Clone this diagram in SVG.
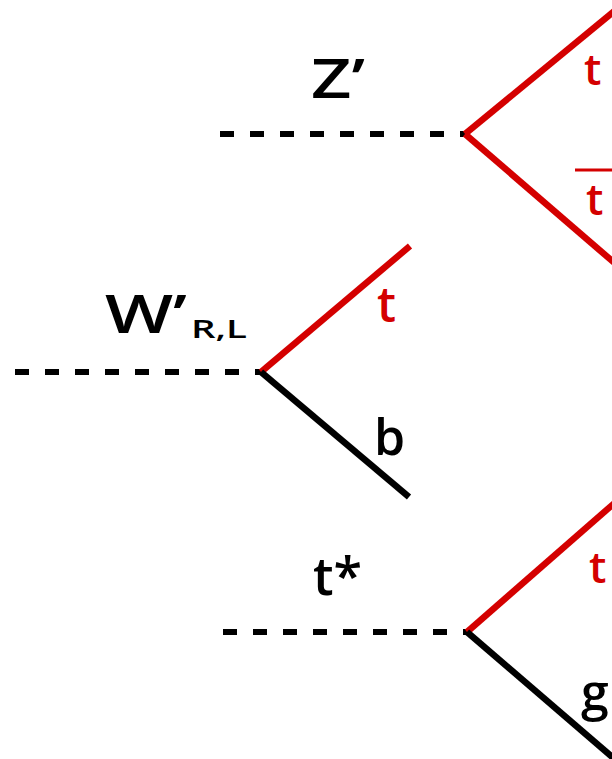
<svg xmlns="http://www.w3.org/2000/svg" width="612" height="759" viewBox="0 0 612 759">
<style>
.dash{stroke:#000;stroke-width:6;stroke-dasharray:14 16;fill:none}
.red{stroke:#d40000;stroke-width:6.5;fill:none}
.blk{stroke:#000;stroke-width:6.5;fill:none}
.lbl{font-family:"Open Sans",Lato,sans-serif;font-weight:600;fill:#000}
.rlbl{font-family:"Open Sans",Lato,sans-serif;font-weight:600;fill:#d40000}
</style>
<rect width="612" height="759" fill="#fff"/>
<g id="connectors">
<line class="dash" x1="220" y1="134" x2="466" y2="134"/>
<line class="red" x1="465" y1="134" x2="618" y2="8"/>
<line class="red" x1="465" y1="134" x2="618" y2="266"/>
<line class="dash" x1="15" y1="372" x2="263" y2="372"/>
<line class="red" x1="261" y1="372" x2="410" y2="246"/>
<line class="blk" x1="261" y1="372" x2="409" y2="497"/>
<line class="dash" x1="223" y1="632" x2="468" y2="632"/>
<line class="red" x1="467" y1="632" x2="618" y2="500"/>
<line class="blk" x1="467" y1="632" x2="618" y2="762"/>
</g>
<g id="zprime">
<text class="lbl" x="311" y="98" font-size="55" textLength="54" lengthAdjust="spacingAndGlyphs">Z’</text>
</g>
<g id="z-t">
<text class="rlbl" x="584" y="85" font-size="44">t</text>
</g>
<g id="z-tbar">
<line x1="575" y1="170" x2="614" y2="170" stroke="#d40000" stroke-width="3"/>
<text class="rlbl" x="586" y="215" font-size="44">t</text>
</g>
<g id="wprime">
<text class="lbl" x="105" y="333" font-size="53" textLength="82" lengthAdjust="spacingAndGlyphs">W’</text>
<text class="lbl" x="191" y="338" font-size="25" textLength="56" lengthAdjust="spacingAndGlyphs">R,L</text>
</g>
<g id="w-t">
<text class="rlbl" x="377" y="322" font-size="48">t</text>
</g>
<g id="w-b">
<text class="lbl" x="374" y="455" font-size="50">b</text>
</g>
<g id="tstar">
<text class="lbl" x="313" y="595" font-size="52">t*</text>
</g>
<g id="ts-t">
<text class="rlbl" x="589" y="583" font-size="44">t</text>
</g>
<g id="ts-g">
<text class="lbl" x="581" y="710" font-size="50">g</text>
</g>
</svg>
